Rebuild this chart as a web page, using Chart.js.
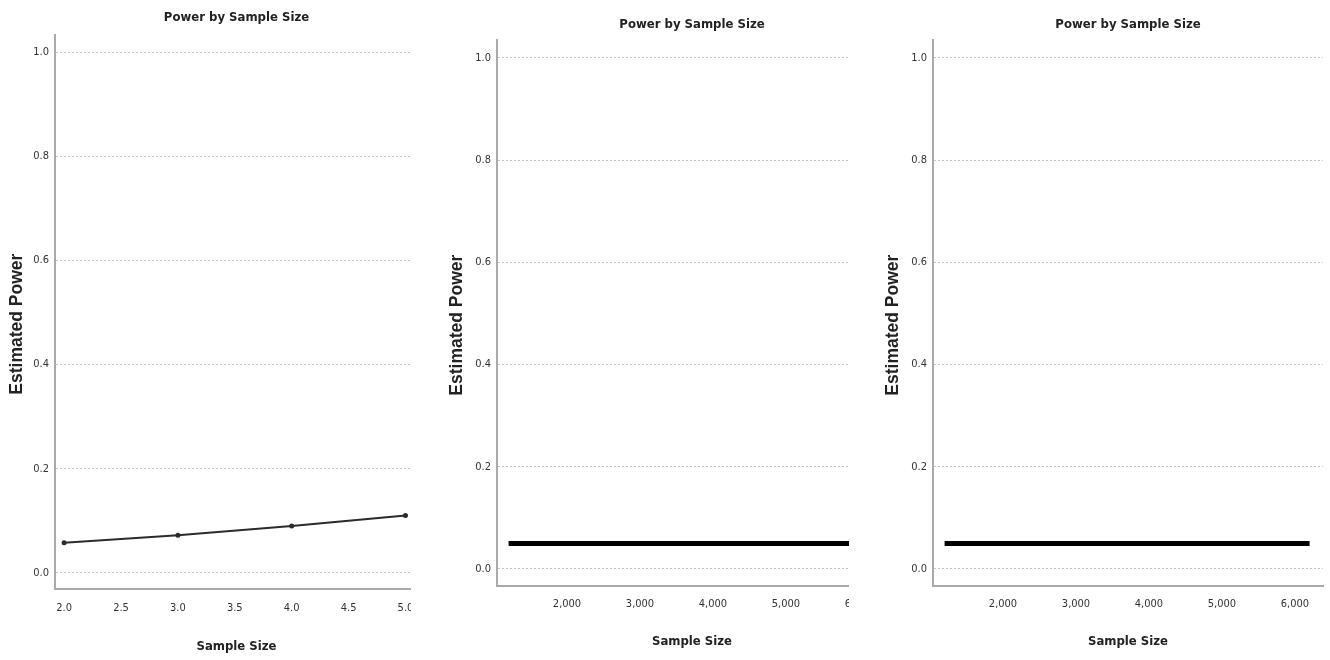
<!DOCTYPE html>
<html>
<head>
<meta charset="utf-8">
<script src="https://cdn.jsdelivr.net/npm/chart.js@4.4.1/dist/chart.umd.min.js"></script>
<style>
    body { margin: 0; background: #fff; width: 1330px; height: 660px; position: relative; overflow: hidden; }
    .panel { position: absolute; top: 0; height: 660px; overflow: hidden; }
    canvas { display: block; }
</style>
</head>
<body>
<div class="panel" style="left:0; width:411px;"><canvas id="chart1" width="426" height="660"></canvas></div>
<div class="panel" style="left:440px; width:409px;"><canvas id="chart2" width="452" height="660"></canvas></div>
<div class="panel" style="left:876px; width:454px;"><canvas id="chart3" width="452" height="660"></canvas></div>
<script>
// ===== Data =====
const smallSizes = [2, 3, 4, 5];
const smallPower = [0.058, 0.072, 0.090, 0.110];
const sampleSizes = [1200, 2200, 3200, 4200, 5200, 6200];
const samplePower = [0.05, 0.05, 0.05, 0.05, 0.05, 0.05];
const powerTicks = [0.0, 0.2, 0.4, 0.6, 0.8, 1.0];
const smallTicks = [2.0, 2.5, 3.0, 3.5, 4.0, 4.5, 5.0];
const sampleTicks = [2000, 3000, 4000, 5000, 6000];

const narrow = "'Liberation Sans Narrow', 'Arial Narrow', 'DejaVu Sans Condensed', sans-serif";

Chart.defaults.color = '#333';
Chart.defaults.font.family = narrow;

function toPoints(xs, ys) {
    return xs.map((x, i) => ({ x: x, y: ys[i] }));
}

// Build one "Power by Sample Size" panel
function createPowerChart(canvas, opts) {
    return new Chart(canvas.getContext('2d'), {
        type: 'line',
        data: {
            datasets: [{
                data: toPoints(opts.xs, opts.ys),
                borderColor: opts.lineColor,
                borderWidth: opts.lineWidth,
                pointRadius: opts.pointRadius,
                pointBackgroundColor: opts.lineColor,
                pointBorderWidth: 0,
                tension: 0
            }]
        },
        options: {
            responsive: false,
            animation: false,
            layout: { padding: { left: 0, right: 5, top: 0, bottom: 0 } },
            plugins: {
                legend: { display: false },
                tooltip: { enabled: false },
                title: {
                    display: true,
                    fullSize: false,
                    text: 'Power by Sample Size',
                    color: '#222',
                    font: { family: narrow, size: 13, weight: 'bold' },
                    padding: { top: opts.titleTop, bottom: opts.titleBottom }
                }
            },
            scales: {
                x: {
                    type: 'linear',
                    min: opts.xMin,
                    max: opts.xMax,
                    afterBuildTicks: s => { s.ticks = opts.xTicks.map(v => ({ value: v })); },
                    afterFit: s => { s.height = opts.xHeight; },
                    ticks: {
                        padding: opts.xTickPad,
                        maxRotation: 0,
                        font: { size: 11 },
                        color: '#333',
                        callback: opts.xFormat
                    },
                    grid: { drawOnChartArea: false, drawTicks: false },
                    border: { color: '#aaaaaa', width: 2 },
                    title: {
                        display: true,
                        text: 'Sample Size',
                        color: '#222',
                        font: { family: narrow, size: 13, weight: 'bold' },
                        padding: { top: 0, bottom: opts.xTitleBottom }
                    }
                },
                y: {
                    min: opts.yMin,
                    max: opts.yMax,
                    afterBuildTicks: s => { s.ticks = powerTicks.map(v => ({ value: v })); },
                    afterFit: s => { s.width = opts.yWidth; },
                    ticks: {
                        padding: 6,
                        font: { size: 11 },
                        color: '#333',
                        callback: v => v.toFixed(1)
                    },
                    grid: { color: '#c4c4c4', lineWidth: 1, drawTicks: false },
                    border: { color: '#aaaaaa', width: 2, dash: [2, 2] },
                    title: {
                        display: true,
                        // trailing spaces nudge the rotated label down a little
                        text: 'Estimated Power     ',
                        color: '#222',
                        font: { family: "'Liberation Sans', Arial, sans-serif", size: 17.5, weight: 'bold' },
                        padding: { top: 7, bottom: 0 }
                    }
                }
            }
        }
    });
}

createPowerChart(document.getElementById('chart1'), {
    xs: smallSizes, ys: smallPower,
    lineColor: '#2b2b2b', lineWidth: 2, pointRadius: 2.5,
    xMin: 1.92, xMax: 5.11, xTicks: smallTicks, xFormat: v => v.toFixed(1),
    yMin: -0.031, yMax: 1.033,
    titleTop: 10.2, titleBottom: 9.2,
    xHeight: 71, xTickPad: 12.4, xTitleBottom: 5.2,
    yWidth: 55
});

const bigOpts = {
    xs: sampleSizes, ys: samplePower,
    lineColor: '#000', lineWidth: 5, pointRadius: 0,
    xMin: 1041, xMax: 6384, xTicks: sampleTicks, xFormat: v => v.toLocaleString('en-US'),
    yMin: -0.0333, yMax: 1.0352,
    titleTop: 17.2, titleBottom: 7.2,
    xHeight: 74, xTickPad: 11.4, xTitleBottom: 10.2,
    yWidth: 57
};
createPowerChart(document.getElementById('chart2'), bigOpts);
createPowerChart(document.getElementById('chart3'), bigOpts);
</script>
</body>
</html>
